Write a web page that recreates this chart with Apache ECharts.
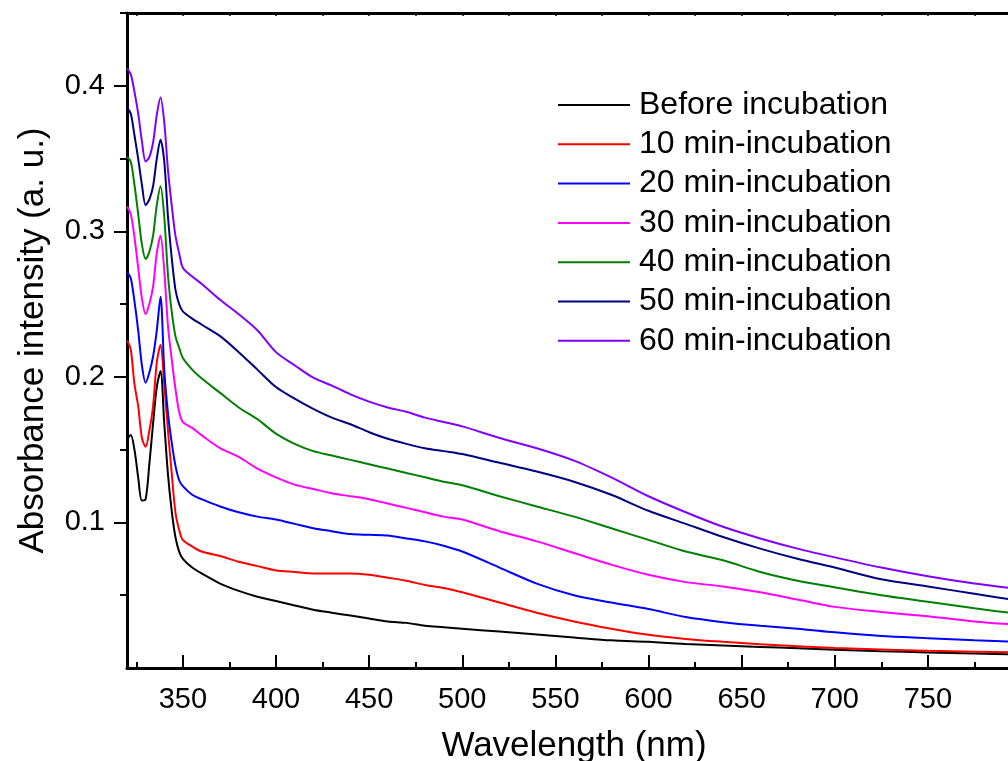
<!DOCTYPE html>
<html>
<head>
<meta charset="utf-8">
<script src="https://cdn.jsdelivr.net/npm/echarts@6/dist/echarts.min.js"></script>
<style>html,body{margin:0;padding:0;background:#fff;}#c{width:1008px;height:761px;}</style>
</head>
<body>
<div id="c"></div>
<script>
const wavelengths = [320,322,324,326,328,330,332,334,336,338,340,342,344,346,348,350,355,360,370,380,390,400,410,420,430,440,450,460,470,480,490,500,520,540,560,580,600,620,640,660,680,700,725,750,775,800];

const seriesNames = ['Before incubation','10 min-incubation','20 min-incubation','30 min-incubation','40 min-incubation','50 min-incubation','60 min-incubation'];
const seriesColors = ['#000000','#ff0000','#0000ff','#ff00ff','#008000','#000080','#8000ff'];

const before = [0.157,0.160,0.150,0.131,0.115,0.116,0.140,0.168,0.193,0.204,0.168,0.133,0.108,0.090,0.080,
  0.075,0.069,0.065,
  0.058,0.053,0.049,0.046,0.043,0.040,0.038,0.036,0.034,0.032,0.031,0.029,0.028,0.027,
  0.025,0.023,0.021,0.019,0.018,0.0165,0.0155,0.0145,0.0135,0.0125,
  0.0115,0.0107,0.0100,0.0093];
const min10 = [0.225,0.219,0.195,0.180,0.158,0.152,0.163,0.180,0.210,0.222,0.195,0.163,0.134,0.107,0.095,
  0.088,0.0835,0.080,
  0.077,0.073,0.070,0.067,0.066,0.065,0.065,0.065,0.064,0.062,0.060,0.057,0.055,0.052,
  0.045,0.038,0.032,0.027,0.0228,0.020,0.018,0.0163,0.015,0.0137,
  0.0127,0.0118,0.0112,0.0106];
const min20 = [0.272,0.268,0.252,0.232,0.208,0.196,0.203,0.214,0.232,0.255,0.205,0.175,0.155,0.139,0.129,
  0.125,0.119,0.116,
  0.111,0.107,0.104,0.102,0.099,0.096,0.094,0.092,0.0915,0.091,0.089,0.087,0.084,0.080,
  0.069,0.058,0.050,0.045,0.0405,0.035,0.0315,0.029,0.027,0.0245,
  0.022,0.0205,0.019,0.018];
const min30 = [0.317,0.312,0.296,0.275,0.254,0.243,0.250,0.262,0.285,0.297,0.273,0.235,0.212,0.192,0.176,
  0.169,0.165,0.160,
  0.151,0.145,0.137,0.131,0.126,0.123,0.120,0.118,0.116,0.113,0.110,0.107,0.104,0.102,
  0.094,0.087,0.079,0.071,0.064,0.059,0.056,0.052,0.047,0.042,
  0.0385,0.0355,0.032,0.0295];
const min40 = [0.351,0.348,0.332,0.312,0.291,0.281,0.286,0.297,0.318,0.331,0.310,0.270,0.245,0.228,0.220,
  0.213,0.205,0.199,
  0.189,0.179,0.171,0.161,0.154,0.149,0.146,0.143,0.140,0.137,0.134,0.131,0.128,0.1255,
  0.118,0.111,0.104,0.096,0.088,0.080,0.074,0.066,0.060,0.0555,
  0.050,0.0455,0.041,0.037];
const min50 = [0.385,0.381,0.366,0.350,0.332,0.318,0.322,0.331,0.350,0.363,0.348,0.310,0.282,0.260,0.250,
  0.245,0.240,0.236,
  0.228,0.217,0.205,0.193,0.185,0.178,0.172,0.1675,0.162,0.1575,0.154,0.151,0.149,0.147,
  0.141,0.135,0.128,0.119,0.108,0.099,0.090,0.082,0.075,0.069,
  0.061,0.056,0.051,0.046];
const min60 = [0.412,0.408,0.396,0.381,0.362,0.348,0.351,0.361,0.380,0.392,0.375,0.342,0.318,0.297,0.285,
  0.275,0.269,0.264,
  0.253,0.243,0.232,0.217,0.208,0.1995,0.194,0.188,0.183,0.179,0.176,0.172,0.169,0.166,
  0.158,0.151,0.1425,0.131,0.118,0.107,0.097,0.089,0.082,0.076,
  0.069,0.063,0.058,0.054];

const xMajorTicks = [350,400,450,500,550,600,650,700,750];
const xMinorTicks = [325,375,425,475,525,575,625,675,725,775];
const xTopTicks = [325,350,375,400,425,450,475,500,525,550,575,600,625,650,675,700,725,750,775];
const yMajorTicks = [0.1,0.2,0.3,0.4];
const yMinorTicks = [0.05,0.15,0.25,0.35,0.45];

const allValues = [before,min10,min20,min30,min40,min50,min60];
const FONT = '"Liberation Sans", Arial, sans-serif';

const chart = echarts.init(document.getElementById('c'), null, {renderer:'canvas'});

const series = allValues.map((vals, i) => ({
  name: seriesNames[i],
  type: 'line',
  xAxisIndex: 0,
  yAxisIndex: 0,
  data: wavelengths.map((w, j) => [w, vals[j]]),
  showSymbol: false,
  smooth: 0.3,
  lineStyle: {color: seriesColors[i], width: 2},
  itemStyle: {color: seriesColors[i]},
  emphasis: {disabled: true},
  clip: true
}));

const xBase = {type:'value', min:320, max:800, splitLine:{show:false}};
const yBase = {type:'value', min:0, max:0.45, splitLine:{show:false}};

chart.setOption({
  animation: false,
  backgroundColor: '#ffffff',
  textStyle: {fontFamily: FONT},
  grid: {left:127, right:-13, top:13, bottom:93, containLabel:false, outerBoundsMode:'none'},
  legend: {
    orient: 'vertical',
    left: 558, top: 89,
    padding: 0,
    icon: 'rect',
    itemWidth: 72, itemHeight: 2,
    itemGap: 7.3,
    data: seriesNames,
    textStyle: {fontSize: 32, lineHeight: 32, color:'#000', fontFamily: FONT, padding:[0,0,0,4]}
  },
  xAxis: [
    Object.assign({}, xBase, {
      position:'bottom',
      name:'Wavelength (nm)', nameLocation:'middle', nameGap:61,
      nameTextStyle:{fontSize:35, color:'#000', fontFamily:FONT},
      axisLine:{show:true, onZero:false, lineStyle:{color:'#000', width:3}},
      axisTick:{show:true, inside:true, length:13, customValues:xMajorTicks, lineStyle:{color:'#000', width:2}},
      axisLabel:{show:true, customValues:xMajorTicks, fontSize:29, color:'#000', margin:17, fontFamily:FONT}
    }),
    Object.assign({}, xBase, {
      position:'bottom',
      axisLine:{show:false, onZero:false},
      axisTick:{show:true, inside:true, length:6, customValues:xMinorTicks, lineStyle:{color:'#000', width:2}},
      axisLabel:{show:false}
    }),
    Object.assign({}, xBase, {
      position:'top',
      axisLine:{show:true, onZero:false, lineStyle:{color:'#000', width:3}},
      axisTick:{show:true, inside:true, length:3, customValues:xTopTicks, lineStyle:{color:'#000', width:1.5}},
      axisLabel:{show:false}
    })
  ],
  yAxis: [
    Object.assign({}, yBase, {
      position:'left',
      name:'Absorbance intensity (a. u.)', nameLocation:'middle', nameGap:76, nameRotate:90,
      nameTextStyle:{fontSize:35, color:'#000', fontFamily:FONT},
      axisLine:{show:true, onZero:false, lineStyle:{color:'#000', width:3}},
      axisTick:{show:true, inside:false, length:7, customValues:yMinorTicks, lineStyle:{color:'#000', width:2}},
      axisLabel:{show:true, customValues:yMajorTicks, fontSize:29, color:'#000', margin:22, fontFamily:FONT}
    }),
    Object.assign({}, yBase, {
      position:'left',
      axisLine:{show:false, onZero:false},
      axisTick:{show:true, inside:false, length:13, customValues:yMajorTicks, lineStyle:{color:'#000', width:2}},
      axisLabel:{show:false}
    })
  ],
  series: series
});
</script>
</body>
</html>
